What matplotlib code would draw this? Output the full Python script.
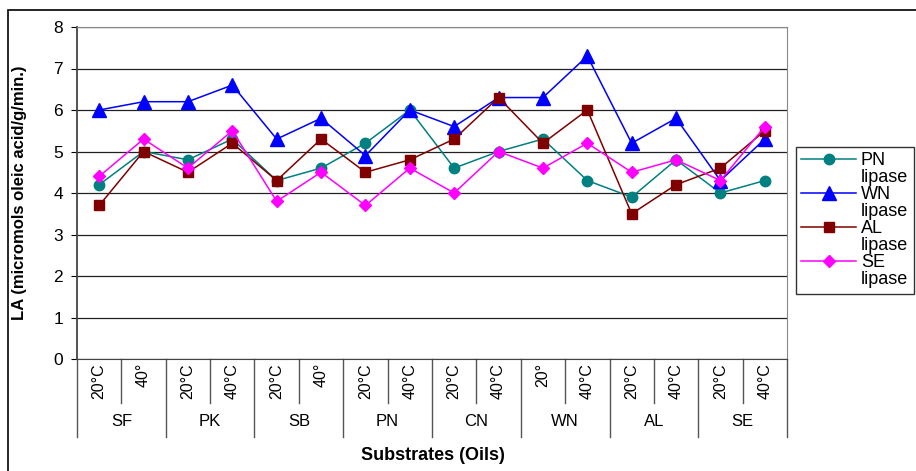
import matplotlib.pyplot as plt
from matplotlib.lines import Line2D
from matplotlib.patches import Rectangle
import numpy as np

plt.rcParams['font.family'] = ['Liberation Sans', 'DejaVu Sans']

groups = ['SF', 'PK', 'SB', 'PN', 'CN', 'WN', 'AL', 'SE']
temps = ['20°C', '40°', '20°C', '40°C', '20°C', '40°', '20°C', '40°C',
         '20°C', '40°C', '20°', '40°C', '20°C', '40°C', '20°C', '40°C']

pn_lipase = [4.2, 5.0, 4.8, 5.3, 4.3, 4.6, 5.2, 6.0, 4.6, 5.0, 5.3, 4.3, 3.9, 4.8, 4.0, 4.3]
wn_lipase = [6.0, 6.2, 6.2, 6.6, 5.3, 5.8, 4.9, 6.0, 5.6, 6.3, 6.3, 7.3, 5.2, 5.8, 4.3, 5.3]
al_lipase = [3.7, 5.0, 4.5, 5.2, 4.3, 5.3, 4.5, 4.8, 5.3, 6.3, 5.2, 6.0, 3.5, 4.2, 4.6, 5.5]
se_lipase = [4.4, 5.3, 4.6, 5.5, 3.8, 4.5, 3.7, 4.6, 4.0, 5.0, 4.6, 5.2, 4.5, 4.8, 4.3, 5.6]

W, H = 916, 471
fig = plt.figure(figsize=(W / 100, H / 100), dpi=100)
ax = fig.add_axes([77 / W, 1 - 359 / H, 710 / W, 332 / H])

x = np.arange(len(temps))
h1, = ax.plot(x, pn_lipase, color='#008080', marker='o', ms=7.5, lw=1.1)
h2, = ax.plot(x, wn_lipase, color='#0000ff', marker='^', ms=10, lw=1.1)
h3, = ax.plot(x, al_lipase, color='#800000', marker='s', ms=7.5, lw=1.1)
h4, = ax.plot(x, se_lipase, color='#ff00ff', marker='D', ms=6.5, lw=1.1)

ax.set_xlim(-0.5, len(temps) - 0.5)
ax.set_ylim(0, 8)
ax.set_yticks(range(0, 9))
ax.yaxis.grid(True, color='#222222', lw=0.9)
ax.set_axisbelow(True)
ax.tick_params(axis='y', labelsize=12.5, length=4, direction='out', pad=6)
ax.set_xticks([])
for s in ['top', 'right']:
    ax.spines[s].set_color('#888888')
ax.spines['left'].set_color('#444444')
ax.spines['left'].set_linewidth(1.3)
ax.spines['bottom'].set_color('#444444')

# category axis: temperature labels and separators
trans = ax.get_xaxis_transform()
for i, t in enumerate(temps):
    ax.text(i, -0.012, t, rotation=90, ha='center', va='top', fontsize=11.5,
            transform=trans)
sub_depth = -(403 - 359) / 332
grp_depth = -(437 - 359) / 332
for i in range(len(temps) + 1):
    b = i - 0.5
    y1 = grp_depth if i % 2 == 0 else sub_depth
    ax.add_line(Line2D([b, b], [0, y1], color='#555555', lw=1, transform=trans,
                       clip_on=False))
for g, name in enumerate(groups):
    ax.text(2 * g + 0.5, -(422 - 359) / 332, name, ha='center', va='center',
            fontsize=12, transform=trans)

ax.set_ylabel('LA (micromols oleic acid/g/min.)', fontsize=12, fontweight='bold')
ax.yaxis.set_label_coords(-(77 - 27) / 710, 0.5)
fig.text(433 / W, 1 - 456 / H, 'Substrates (Oils)', ha='center', va='center',
         fontsize=13, fontweight='bold')

# legend: marker on the first line, "lipase" on the second
blank = Line2D([], [], color='none')
handles = [h1, blank, h2, blank, h3, blank, h4, blank]
labels = ['PN', 'lipase', 'WN', 'lipase', 'AL', 'lipase', 'SE', 'lipase']
leg = fig.legend(handles, labels, loc='upper left', bbox_to_anchor=(796 / W, 1 - 147 / H),
                 fontsize=13, frameon=True, fancybox=False, handlelength=3.0,
                 labelspacing=0.0, borderpad=0.3, handletextpad=0.3,
                 borderaxespad=0)
leg.get_frame().set_edgecolor('black')
leg.get_frame().set_linewidth(1)

fig.add_artist(Rectangle((8 / W, -0.01), 1.0, 1 - 10 / H + 0.01, transform=fig.transFigure,
                         fill=False, edgecolor='black', lw=1.2))

fig.savefig('out.png', dpi=100)
